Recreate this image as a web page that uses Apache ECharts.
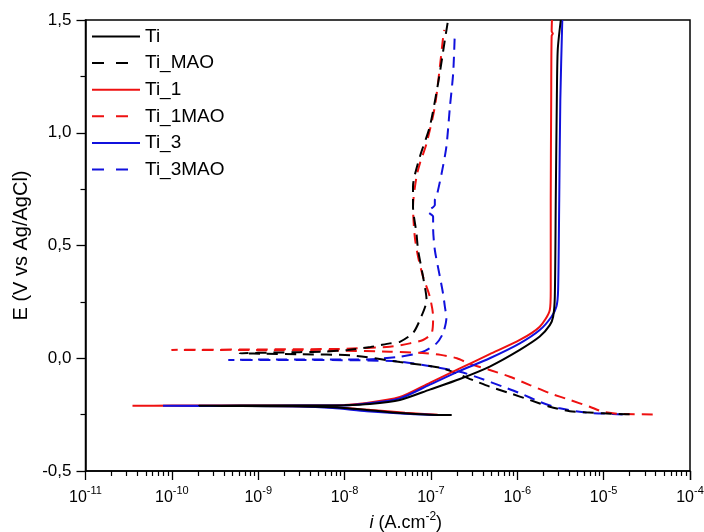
<!DOCTYPE html>
<html>
<head>
<meta charset="utf-8">
<script src="https://cdn.jsdelivr.net/npm/echarts@6/dist/echarts.min.js"></script>
<style>
  html, body { margin: 0; padding: 0; background: #fff; }
  #chart { width: 704px; height: 532px; }
</style>
</head>
<body>
<div id="chart"></div>
<script>
// Potentiodynamic polarization curves: current density i (A/cm2) vs potential E (V vs Ag/AgCl).
// Each curve runs from the cathodic end, through the corrosion potential, up the anodic branch.

const seriesNames = ['Ti', 'Ti_MAO', 'Ti_1', 'Ti_1MAO', 'Ti_3', 'Ti_3MAO'];

const tiI = [1.74e-7, 9.8e-8, 4.4e-8, 1.8e-8, 7.3e-9, 2.5e-9, 6.3e-10, 2.06e-10, 6.3e-10, 2.5e-9, 1.0e-8, 1.96e-8, 4.37e-8, 9.7e-8, 2.16e-7, 4.8e-7, 1.07e-6, 1.82e-6, 2.38e-6, 2.6e-6, 2.72e-6, 2.79e-6, 2.87e-6, 2.94e-6, 3.19e-6];
const tiE = [-0.252, -0.251, -0.243, -0.229, -0.217, -0.213, -0.212, -0.211, -0.210, -0.210, -0.208, -0.203, -0.185, -0.139, -0.092, -0.037, 0.037, 0.096, 0.147, 0.184, 0.273, 0.702, 1.145, 1.367, 1.5];

const tiMaoI = [2.0e-5, 1.5e-5, 9.8e-6, 6e-6, 4.06e-6, 2.38e-6, 1.4e-6, 8.2e-7, 4.8e-7, 3.2e-7, 1.37e-7, 4.4e-8, 1.25e-8, 3e-9, 1.2e-9, 6.1e-10, 1.5e-9, 3e-9, 6e-9, 1.1e-8, 2e-8, 3.34e-8, 4.37e-8, 6.2e-8, 7.45e-8, 8.9e-8, 8.1e-8, 7.1e-8, 6.8e-8, 6.2e-8, 6.2e-8, 7.45e-8, 9.7e-8, 1.21e-7, 1.45e-7, 1.58e-7];
const tiMaoE = [-0.248, -0.247, -0.244, -0.240, -0.235, -0.215, -0.185, -0.155, -0.126, -0.100, -0.045, -0.017, 0.012, 0.018, 0.020, 0.022, 0.025, 0.027, 0.030, 0.037, 0.050, 0.066, 0.073, 0.112, 0.170, 0.258, 0.362, 0.480, 0.554, 0.672, 0.761, 0.894, 1.027, 1.219, 1.411, 1.5];

const ti1I = [1.2e-7, 5e-8, 2e-8, 8e-9, 3e-9, 5e-10, 1e-10, 3.5e-11, 1e-10, 1e-9, 7.3e-9, 1.8e-8, 4.37e-8, 9.7e-8, 2.16e-7, 4.8e-7, 1.07e-6, 1.82e-6, 2.38e-6, 2.44e-6, 2.44e-6, 2.47e-6, 2.5e-6, 2.58e-6, 2.5e-6, 2.52e-6];
const ti1E = [-0.251, -0.242, -0.229, -0.218, -0.213, -0.212, -0.211, -0.211, -0.210, -0.210, -0.209, -0.198, -0.172, -0.109, -0.045, 0.018, 0.081, 0.140, 0.214, 0.303, 0.702, 1.145, 1.43, 1.44, 1.45, 1.5];

const ti1MaoI = [3.7e-5, 1.55e-5, 9.8e-6, 6.9e-6, 4.06e-6, 2.38e-6, 1.4e-6, 8.2e-7, 4.8e-7, 2.82e-7, 2e-7, 1.3e-7, 8.05e-8, 3.34e-8, 8.9e-9, 1e-9, 1e-10, 1e-9, 3e-9, 1e-8, 3.34e-8, 5.7e-8, 8.1e-8, 1.02e-7, 1.06e-7, 9.7e-8, 8.1e-8, 7.1e-8, 6.5e-8, 6.2e-8, 6.8e-8, 7.45e-8, 8.9e-8, 1.11e-7, 1.27e-7, 1.38e-7, 1.43e-7];
const ti1MaoE = [-0.249, -0.247, -0.237, -0.215, -0.185, -0.155, -0.119, -0.082, -0.052, -0.025, 0.000, 0.015, 0.023, 0.029, 0.034, 0.036, 0.037, 0.039, 0.040, 0.042, 0.051, 0.066, 0.081, 0.111, 0.184, 0.273, 0.362, 0.450, 0.539, 0.672, 0.805, 0.864, 0.953, 1.116, 1.293, 1.419, 1.456];

const ti3I = [1.3e-7, 5e-8, 1.8e-8, 7.3e-9, 3e-9, 6e-10, 7.9e-11, 6e-10, 3e-9, 1e-8, 1.8e-8, 4.37e-8, 9.7e-8, 2.16e-7, 4.8e-7, 1.07e-6, 1.82e-6, 2.49e-6, 2.84e-6, 2.97e-6, 3.06e-6, 3.15e-6, 3.32e-6];
const ti3E = [-0.252, -0.246, -0.235, -0.221, -0.214, -0.212, -0.211, -0.211, -0.210, -0.209, -0.201, -0.178, -0.117, -0.056, 0.000, 0.066, 0.125, 0.184, 0.229, 0.303, 0.702, 1.145, 1.5];

const ti3MaoI = [1.66e-5, 1.27e-5, 6.3e-6, 3.1e-6, 1.82e-6, 1.07e-6, 6.8e-7, 3.68e-7, 2.16e-7, 1.03e-7, 4.4e-8, 1.5e-8, 3e-9, 1e-9, 4.5e-10, 1e-9, 3e-9, 1.8e-8, 4.37e-8, 8.1e-8, 1.16e-7, 1.38e-7, 1.51e-7, 1.45e-7, 1.38e-7, 1.27e-7, 1.11e-7, 1.06e-7, 1.06e-7, 9.2e-8, 1.11e-7, 1.11e-7, 1.16e-7, 1.33e-7, 1.51e-7, 1.66e-7, 1.81e-7, 1.89e-7];
const ti3MaoE = [-0.249, -0.247, -0.241, -0.222, -0.193, -0.155, -0.126, -0.088, -0.060, -0.037, -0.015, -0.009, -0.008, -0.008, -0.008, -0.006, -0.006, -0.005, 0.007, 0.029, 0.066, 0.111, 0.178, 0.229, 0.288, 0.362, 0.480, 0.578, 0.628, 0.650, 0.680, 0.702, 0.716, 0.820, 0.938, 1.116, 1.264, 1.441];

// Axis ticks
const xTickExponents = [-11, -10, -9, -8, -7, -6, -5, -4];
const yTicks = [-0.5, 0.0, 0.5, 1.0, 1.5];
const yTickLabels = ['-0,5', '0,0', '0,5', '1,0', '1,5'];

const FONT = '"Liberation Sans", Arial, sans-serif';
const BLACK = '#000000';
const RED = '#ee1111';
const BLUE = '#1111dd';
const DASH = [11, 7];
const LEGEND_DASH = [12, 12];

function zip(xs, ys) { return xs.map((x, k) => [x, ys[k]]); }

function curve(name, xs, ys, color, dashed, z) {
  return {
    name: name,
    type: 'line',
    data: zip(xs, ys),
    showSymbol: false,
    symbol: 'none',
    smooth: 0.25,
    clip: true,
    z: z,
    lineStyle: { color: color, width: 2, type: dashed ? DASH : 'solid' },
    itemStyle: { color: color },
    emphasis: { disabled: true }
  };
}

const chart = echarts.init(document.getElementById('chart'), null, { renderer: 'canvas' });

chart.setOption({
  animation: false,
  backgroundColor: '#ffffff',
  textStyle: { fontFamily: FONT, color: BLACK },
  grid: {
    left: 85.5, right: 14, top: 20, bottom: 61,
    outerBoundsMode: 'none',
    show: true, borderColor: BLACK, borderWidth: 1.5, backgroundColor: 'transparent'
  },
  legend: {
    orient: 'vertical',
    left: 91, top: 27,
    padding: 0,
    itemWidth: 48, itemHeight: 14, itemGap: 7.6,
    // line-only keys: hide the marker that line series add to their legend icon
    itemStyle: { opacity: 0, borderWidth: 0 },
    textStyle: { fontSize: 19, color: BLACK, fontFamily: FONT },
    data: [
      { name: 'Ti' },
      { name: 'Ti_MAO', lineStyle: { type: LEGEND_DASH } },
      { name: 'Ti_1' },
      { name: 'Ti_1MAO', lineStyle: { type: LEGEND_DASH } },
      { name: 'Ti_3' },
      { name: 'Ti_3MAO', lineStyle: { type: LEGEND_DASH } }
    ]
  },
  xAxis: {
    type: 'log',
    logBase: 10,
    min: 1e-11,
    max: 1e-4,
    splitNumber: 7,
    position: 'bottom',
    axisLine: { show: true, onZero: false, lineStyle: { color: BLACK, width: 1.5 } },
    axisTick: { show: true, inside: false, length: 9, lineStyle: { color: BLACK, width: 1.3 } },
    minorTick: { show: true, splitNumber: 9, length: 5, lineStyle: { color: BLACK, width: 1.2 } },
    splitLine: { show: false },
    minorSplitLine: { show: false },
    axisLabel: {
      margin: 14,
      color: BLACK,
      formatter: function (v) {
        const e = Math.round(Math.log10(v));
        const k = xTickExponents.indexOf(e);
        return k < 0 ? '' : '{b|10}{s|' + xTickExponents[k] + '}';
      },
      rich: {
        b: { fontSize: 16, lineHeight: 26, color: BLACK, fontFamily: FONT },
        s: { fontSize: 11, lineHeight: 11, verticalAlign: 'top', color: BLACK, fontFamily: FONT }
      }
    },
    name: '{it|i}{n| (A.cm}{s|-2}{n|)}',
    nameLocation: 'middle',
    nameGap: 38,
    nameTextStyle: {
      padding: [0, 0, 0, 36],
      rich: {
        it: { fontSize: 18, lineHeight: 24, fontStyle: 'italic', color: BLACK, fontFamily: FONT },
        n: { fontSize: 18, lineHeight: 24, color: BLACK, fontFamily: FONT },
        s: { fontSize: 12, lineHeight: 12, verticalAlign: 'top', color: BLACK, fontFamily: FONT }
      }
    }
  },
  yAxis: {
    type: 'value',
    min: -0.5,
    max: 1.5,
    interval: 0.5,
    axisLine: { show: true, onZero: false, lineStyle: { color: BLACK, width: 1.5 } },
    axisTick: { show: true, inside: false, length: 9, lineStyle: { color: BLACK, width: 1.3 } },
    minorTick: { show: true, splitNumber: 2, length: 5, lineStyle: { color: BLACK, width: 1.2 } },
    splitLine: { show: false },
    minorSplitLine: { show: false },
    axisLabel: {
      margin: 14,
      fontSize: 17,
      color: BLACK,
      formatter: function (v) {
        const k = yTicks.findIndex(t => Math.abs(t - v) < 1e-9);
        return k < 0 ? '' : yTickLabels[k];
      }
    },
    name: 'E (V vs Ag/AgCl)',
    nameLocation: 'middle',
    nameGap: 52,
    nameTextStyle: { fontSize: 20, color: BLACK }
  },
  series: [
    curve('Ti_3MAO', ti3MaoI, ti3MaoE, BLUE, true, 2),
    curve('Ti_1MAO', ti1MaoI, ti1MaoE, RED, true, 2),
    curve('Ti_MAO', tiMaoI, tiMaoE, BLACK, true, 2),
    curve('Ti_1', ti1I, ti1E, RED, false, 3),
    curve('Ti_3', ti3I, ti3E, BLUE, false, 3),
    curve('Ti', tiI, tiE, BLACK, false, 3)
  ]
});
</script>
</body>
</html>
